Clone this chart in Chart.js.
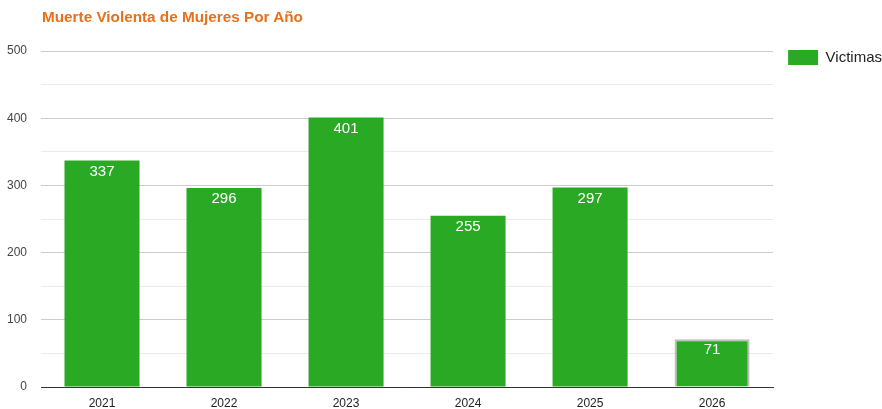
<!DOCTYPE html>
<html>
<head>
<meta charset="utf-8">
<script src="https://cdn.jsdelivr.net/npm/chart.js@4"></script>
<style>
  html, body { margin: 0; padding: 0; background: #fff; }
  #wrap { position: relative; width: 882px; height: 409px; }
  #title {
    position: absolute; left: 42px; top: 8px;
    font: bold 15.3px "Liberation Sans", Arial, sans-serif; color: #e7711b;
  }
</style>
</head>
<body>
<div id="wrap">
  <div id="title">Muerte Violenta de Mujeres Por Año</div>
  <canvas id="chart" width="882" height="409"></canvas>
</div>
<script>
// Chart data
const years = ['2021', '2022', '2023', '2024', '2025', '2026'];
const victimas = [337, 296, 401, 255, 297, 71];
const seriesLabel = 'Victimas';

// Draws each value just inside the top of its bar
const barValueLabels = {
    id: 'barValueLabels',
    afterDatasetsDraw(chart) {
        const ctx = chart.ctx;
        const meta = chart.getDatasetMeta(0);
        ctx.save();
        ctx.fillStyle = '#ffffff';
        ctx.font = '15px "Liberation Sans", Arial, sans-serif';
        ctx.textAlign = 'center';
        ctx.textBaseline = 'middle';
        meta.data.forEach((bar, i) => {
            ctx.fillText(String(victimas[i]), bar.x, bar.y + 11);
        });
        ctx.restore();
    }
};

// Moves the legend up level with the top gridline and a bit to the right
const legendNudge = {
    id: 'legendNudge',
    afterUpdate(chart) {
        const lg = chart.legend;
        lg.left += 10;
        lg.right += 10;
        lg.top -= 6;
        lg.adjustHitBoxes();
    }
};

const ctx = document.getElementById('chart').getContext('2d');
new Chart(ctx, {
    type: 'bar',
    data: {
        labels: years,
        datasets: [{
            label: seriesLabel,
            data: victimas,
            backgroundColor: '#2aaa24',
            borderColor: victimas.map((v, i) => i === victimas.length - 1 ? 'rgba(110,110,110,0.45)' : '#2aaa24'),
            borderWidth: victimas.map((v, i) => i === victimas.length - 1 ? 2 : 0),
            barPercentage: 0.615,
            categoryPercentage: 1.0
        }]
    },
    options: {
        responsive: false,
        animation: false,
        layout: {
            padding: { top: 51, left: 6, right: 0, bottom: 0 }
        },
        scales: {
            x: {
                grid: { display: false, drawTicks: false },
                border: { display: true, color: '#333333', width: 1 },
                afterFit: s => { s.height = 22; },
                ticks: {
                    color: '#222222',
                    padding: 9,
                    font: { family: '"Liberation Sans", Arial, sans-serif', size: 12 }
                }
            },
            y: {
                min: 0,
                max: 500,
                border: { display: false },
                afterFit: s => { s.width = 35; },
                grid: {
                    drawTicks: false,
                    color: c => c.tick.value === 0 ? '#333333' : (c.tick.value % 100 === 0 ? '#cccccc' : '#ebebeb')
                },
                ticks: {
                    stepSize: 50,
                    color: '#444444',
                    padding: 14,
                    font: { family: '"Liberation Sans", Arial, sans-serif', size: 12 },
                    callback: v => v % 100 === 0 ? v : ''
                }
            }
        },
        plugins: {
            title: { display: false },
            tooltip: { enabled: false },
            legend: {
                position: 'right',
                align: 'start',
                labels: {
                    boxWidth: 30,
                    boxHeight: 15,
                    padding: 5,
                    color: '#222222',
                    font: { family: '"Liberation Sans", Arial, sans-serif', size: 15 }
                }
            }
        }
    },
    plugins: [barValueLabels, legendNudge]
});
</script>
</body>
</html>
